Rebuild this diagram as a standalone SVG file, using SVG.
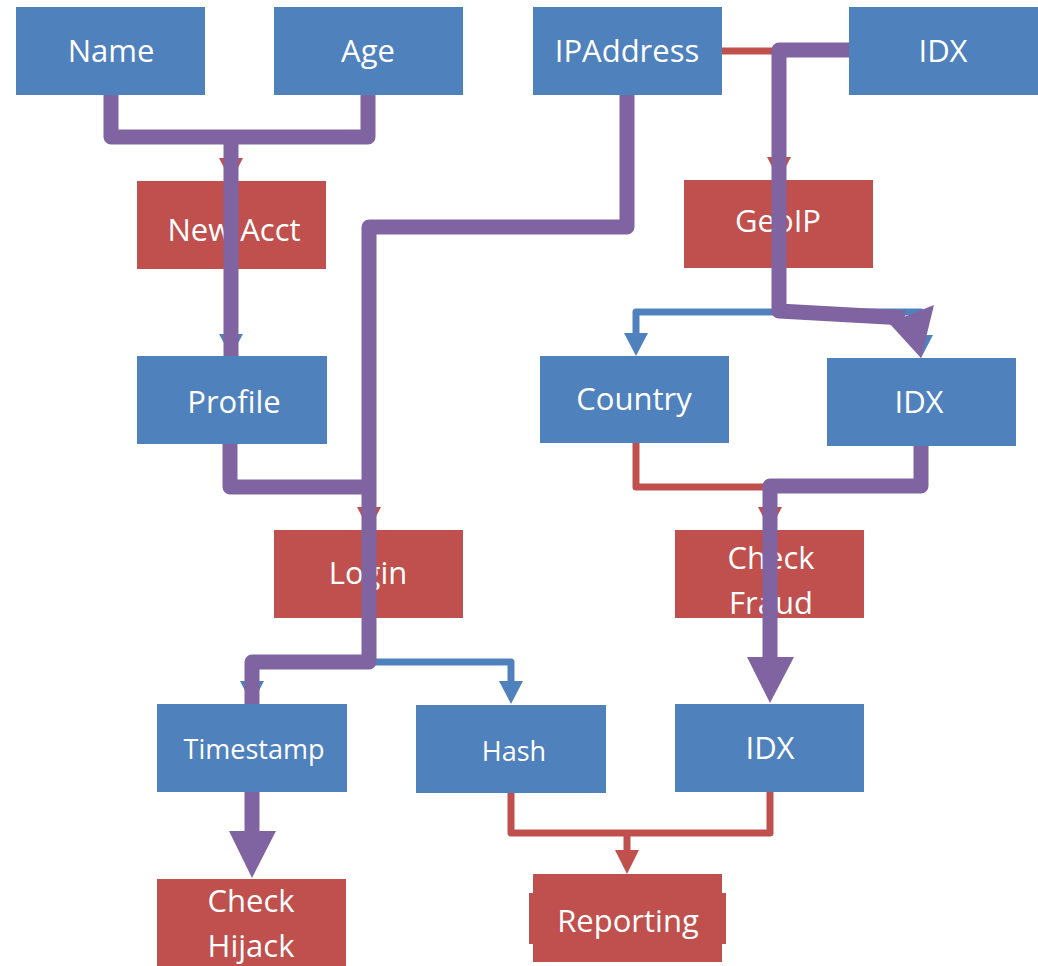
<svg xmlns="http://www.w3.org/2000/svg" width="1038" height="966" viewBox="0 0 1038 966">
<style>
.b{fill:#4F81BD}
.r{fill:#C0504D}
.t{fill:#fff;font-family:"Open Sans","Noto Sans","Liberation Sans",sans-serif;font-size:31px;text-anchor:middle}
.s{font-size:27px}
.tr{fill:none;stroke:#C0504D;stroke-width:7;stroke-linejoin:round}
.tb{fill:none;stroke:#4F81BD;stroke-width:7;stroke-linejoin:round}
.p{fill:none;stroke:#8064A2;stroke-width:15;stroke-linejoin:round}
.ar{fill:#C0504D}
.ab{fill:#4F81BD}
.ap{fill:#8064A2}
</style>
<rect width="1038" height="966" fill="#fff"/>
<g id="nodes">
<g id="name"><rect class="b" x="16" y="7" width="189" height="88"/><text class="t" x="111" y="62">Name</text></g>
<g id="age"><rect class="b" x="274" y="7" width="189" height="88"/><text class="t" x="368" y="62">Age</text></g>
<g id="ipaddress"><rect class="b" x="533" y="7" width="189" height="88"/><text class="t" x="627" y="62">IPAddress</text></g>
<g id="idx1"><rect class="b" x="849" y="7" width="189" height="88"/><text class="t" x="943" y="62">IDX</text></g>
<g id="newacct"><rect class="r" x="137" y="181" width="189" height="88"/><text class="t" x="234" y="241">New Acct</text></g>
<g id="geoip"><rect class="r" x="684" y="180" width="189" height="88"/><text class="t" x="778" y="232">GeoIP</text></g>
<g id="profile"><rect class="b" x="137" y="356" width="190" height="88"/><text class="t" x="234" y="413">Profile</text></g>
<g id="country"><rect class="b" x="540" y="356" width="189" height="87"/><text class="t" x="634" y="410">Country</text></g>
<g id="idx2"><rect class="b" x="827" y="358" width="189" height="88"/><text class="t" x="919" y="413">IDX</text></g>
<g id="login"><rect class="r" x="274" y="530" width="189" height="88"/><text class="t" x="368" y="584">Login</text></g>
<g id="checkfraud"><rect class="r" x="675" y="530" width="189" height="88"/><text class="t" x="771" y="569">Check</text><text class="t" x="771" y="614">Fraud</text></g>
<g id="timestamp"><rect class="b" x="157" y="704" width="190" height="88"/><text class="t s" x="254" y="759">Timestamp</text></g>
<g id="hash"><rect class="b" x="416" y="705" width="190" height="88"/><text class="t s" x="514" y="761">Hash</text></g>
<g id="idx3"><rect class="b" x="675" y="704" width="189" height="88"/><text class="t" x="770" y="759">IDX</text></g>
<g id="checkhijack"><rect class="r" x="157" y="879" width="189" height="87"/><text class="t" x="251" y="912">Check</text><text class="t" x="251" y="957">Hijack</text></g>
<g id="reporting"><rect class="r" x="533" y="874" width="189" height="88"/><rect class="r" x="529" y="893" width="197" height="51"/><text class="t" x="628" y="932">Reporting</text></g>
</g>
<g id="connectors">
<path class="tr" d="M111,95 V137 H368 V95 M231,137 V160"/>
<polygon class="ar" points="219,158 243,158 231,181"/>
<path class="tb" d="M231,269 V336"/>
<polygon class="ab" points="219,334 243,334 231,356"/>
<path class="tr" d="M230,444 V487 H369 M627,95 V227 H369 V509"/>
<polygon class="ar" points="357,507 381,507 369,530"/>
<path class="tb" d="M369,618 V662 H252 V684 M369,662 H511 V684"/>
<polygon class="ab" points="240,681 264,681 252,704"/>
<polygon class="ab" points="499,681 523,681 511,704"/>
<path class="tr" d="M722,51 H779 V159"/>
<polygon class="ar" points="767,157 791,157 779,180"/>
<path class="tb" d="M779,268 V312 H636 V335 M779,312 H921 V337"/>
<polygon class="ab" points="624,333 648,333 636,356"/>
<polygon class="ab" points="909,335 933,335 921,358"/>
<path class="tr" d="M636,443 V487 H921 V446 M770,487 V509"/>
<polygon class="ar" points="758,507 782,507 770,530"/>
<path class="tr" d="M511,793 V833 H770 V792 M627,833 V852"/>
<polygon class="ar" points="615,850 639,850 627,874"/>
<path class="p" d="M111,95 V137 H368 V95 M231,137 V356"/>
<path class="p" d="M627,95 V227 H369 V662 H252 V704 M230,444 V487 H369"/>
<path class="p" d="M849,50 H779 V311 L905,318"/>
<polygon class="ap" points="889,323 934,305 921,358"/>
<path class="p" d="M921,446 V486 H770 V660"/>
<polygon class="ap" points="747,657 794,657 770,703"/>
<path class="p" d="M252,792 V833"/>
<polygon class="ap" points="229,831 276,831 252,878"/>
</g>
</svg>
